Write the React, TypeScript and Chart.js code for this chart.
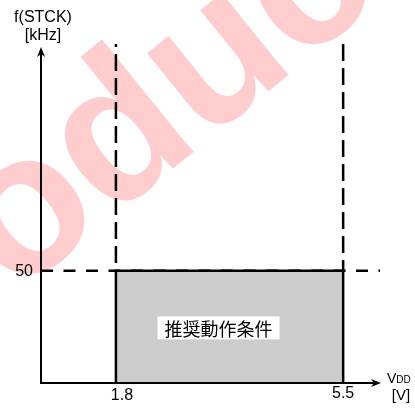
import React, { useEffect, useRef } from "react";
import { Chart, registerables } from "chart.js";

Chart.register(...registerables);

// ---- data ----
const vddTicks = [1.8, 5.5];
const vddTickLabels = ["1.8", "5.5"];
const freqTicks = [50];
const freqTickLabels = ["50"];
const regionX = [1.8, 1.8, 5.5, 5.5];
const regionY = [0, 50, 50, 0];
const xRange = [0.58, 6.1];
const yRange = [0, 151];
const regionLabel = "推奨動作条件";
const yTitle = ["f(STCK)", "[kHz]"];
const xTitleMain = "V";
const xTitleSub = "DD";
const xTitleUnit = "[V]";
const watermarkText = "Product";

const FONT = '"Liberation Sans", Arial, sans-serif';

export default function App() {
  const ref = useRef<HTMLCanvasElement | null>(null);

  useEffect(() => {
    const canvas = ref.current;
    if (!canvas) return;

    const plugin = {
      id: "decor",
      beforeDraw(chart: any) {
        const ctx = chart.ctx;
        ctx.save();
        ctx.fillStyle = "#ffffff";
        ctx.fillRect(0, 0, chart.width, chart.height);
        // watermark
        ctx.translate(-150, 430);
        ctx.rotate((-39 * Math.PI) / 180);
        ctx.font = `bold 200px ${FONT}`;
        ctx.fillStyle = "rgb(255, 205, 205)";
        ctx.textAlign = "left";
        ctx.textBaseline = "alphabetic";
        ctx.fillText(watermarkText, 0, 0);
        ctx.restore();
      },
      afterDatasetsDraw(chart: any) {
        const ctx = chart.ctx;
        const xs = chart.scales.x;
        const ys = chart.scales.y;
        const area = chart.chartArea;
        ctx.save();
        // axes
        ctx.strokeStyle = "#000";
        ctx.fillStyle = "#000";
        ctx.lineWidth = 2;
        const ox = area.left;
        const oy = area.bottom;
        ctx.beginPath();
        ctx.moveTo(ox, oy);
        ctx.lineTo(ox, area.top + 8);
        ctx.moveTo(ox - 1, oy);
        ctx.lineTo(area.right - 6, oy);
        ctx.stroke();
        // y arrow head
        const ty = area.top + 3;
        ctx.beginPath();
        ctx.moveTo(ox, ty);
        ctx.lineTo(ox - 4, ty + 10);
        ctx.lineTo(ox, ty + 7);
        ctx.lineTo(ox + 4, ty + 10);
        ctx.closePath();
        ctx.fill();
        // x arrow head
        const tx = area.right + 1;
        ctx.beginPath();
        ctx.moveTo(tx, oy);
        ctx.lineTo(tx - 10, oy - 4);
        ctx.lineTo(tx - 7, oy);
        ctx.lineTo(tx - 10, oy + 4);
        ctx.closePath();
        ctx.fill();

        // y ticks
        ctx.font = `16px ${FONT}`;
        ctx.textAlign = "right";
        ctx.textBaseline = "middle";
        freqTicks.forEach((v, i) => {
          ctx.fillText(freqTickLabels[i], ox - 8, ys.getPixelForValue(v) + 1);
        });
        // x ticks
        ctx.textAlign = "center";
        ctx.textBaseline = "alphabetic";
        vddTicks.forEach((v, i) => {
          const dx = i === 0 ? 6 : 0;
          const dy = i === 0 ? 17 : 15;
          ctx.fillText(vddTickLabels[i], xs.getPixelForValue(v) + dx, oy + dy);
        });
        // y title
        ctx.textAlign = "center";
        ctx.fillText(yTitle[0], ox + 2, 22);
        ctx.fillText(yTitle[1], ox + 2, 40);
        // x title
        ctx.textAlign = "left";
        ctx.font = `14px ${FONT}`;
        const vx = area.right + 7;
        ctx.fillText(xTitleMain, vx, oy);
        const vw = ctx.measureText(xTitleMain).width;
        ctx.font = `10px ${FONT}`;
        ctx.fillText(xTitleSub, vx + vw, oy);
        ctx.font = `15px ${FONT}`;
        ctx.textAlign = "center";
        ctx.fillText(xTitleUnit, area.right + 21, oy + 17);

        // region label
        const cx =
          (xs.getPixelForValue(regionX[0]) + xs.getPixelForValue(regionX[2])) / 2 - 11;
        const cy =
          (ys.getPixelForValue(regionY[0]) + ys.getPixelForValue(regionY[1])) / 2 + 1;
        ctx.font = `18px "Noto Sans CJK JP", sans-serif`;
        const w = ctx.measureText(regionLabel).width;
        ctx.fillStyle = "#ffffff";
        ctx.fillRect(cx - w / 2 - 7, cy - 11.5, w + 14, 23);
        ctx.fillStyle = "#000";
        ctx.textAlign = "center";
        ctx.textBaseline = "middle";
        ctx.fillText(regionLabel, cx, cy + 1);
        ctx.restore();
      },
    };

    const chart = new Chart(canvas, {
      type: "line",
      data: {
        datasets: [
          {
            data: regionX.map((x, i) => ({ x, y: regionY[i] })),
            borderColor: "#000",
            borderWidth: 2.5,
            backgroundColor: "#cccccc",
            fill: "origin",
            pointRadius: 0,
            tension: 0,
          },
          {
            data: [
              { x: vddTicks[0], y: yRange[1] },
              { x: vddTicks[0], y: freqTicks[0] },
            ],
            borderColor: "#000",
            borderWidth: 2.5,
            borderDash: [17, 7],
            borderDashOffset: 14,
            fill: false,
            pointRadius: 0,
          },
          {
            data: [
              { x: vddTicks[1], y: yRange[1] },
              { x: vddTicks[1], y: freqTicks[0] },
            ],
            borderColor: "#000",
            borderWidth: 2.5,
            borderDash: [17, 7],
            fill: false,
            pointRadius: 0,
          },
          {
            data: [
              { x: xRange[0], y: freqTicks[0] },
              { x: xRange[1], y: freqTicks[0] },
            ],
            borderColor: "#000",
            borderWidth: 2.5,
            borderDash: [12, 10.5],
            fill: false,
            pointRadius: 0,
          },
        ],
      },
      options: {
        responsive: false,
        animation: false,
        layout: { padding: { left: 41, right: 35, top: 44, bottom: 26 } },
        scales: {
          x: { type: "linear", display: false, min: xRange[0], max: xRange[1] },
          y: { type: "linear", display: false, min: yRange[0], max: yRange[1] },
        },
        plugins: {
          legend: { display: false },
          tooltip: { enabled: false },
        },
        elements: { line: { borderCapStyle: "butt" } },
      },
      plugins: [plugin],
    });
    return () => chart.destroy();
  }, []);

  return (
    <div style={{ position: "fixed", left: 0, top: 0, width: 415, height: 409 }}>
      <canvas ref={ref} width={415} height={409} />
    </div>
  );
}
